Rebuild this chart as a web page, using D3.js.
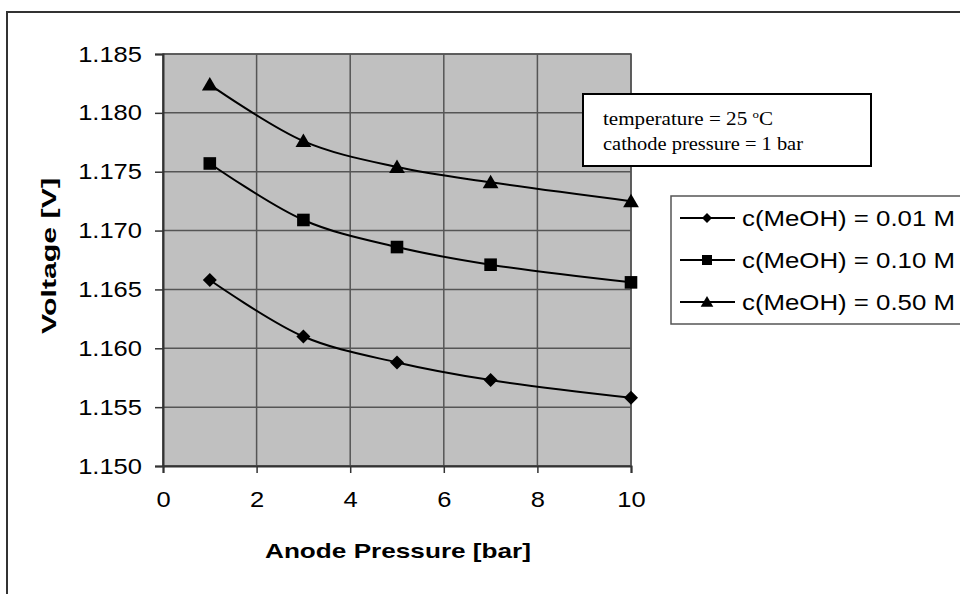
<!DOCTYPE html>
<html><head><meta charset="utf-8">
<script src="https://cdn.jsdelivr.net/npm/d3@7"></script>
<style>
body{margin:0;background:#fff;}
text{font-family:"Liberation Sans",Arial,sans-serif;}
</style></head>
<body><svg id="chart" width="960" height="594"></svg>
<script>
const pressures = [1, 3, 5, 7, 10];
const seriesNames = ["c(MeOH) = 0.01 M", "c(MeOH) = 0.10 M", "c(MeOH) = 0.50 M"];
const v001 = [1.1658, 1.1610, 1.1588, 1.1573, 1.1558];
const v010 = [1.1757, 1.1709, 1.1686, 1.1671, 1.1656];
const v050 = [1.1824, 1.1776, 1.1754, 1.1741, 1.1725];
const markerTypes = ["diamond", "square", "triangle"];
const xTicks = [0, 2, 4, 6, 8, 10];
const yTicks = [1.150, 1.155, 1.160, 1.165, 1.170, 1.175, 1.180, 1.185];
const xTitle = "Anode Pressure [bar]";
const yTitle = "Voltage [V]";
const noteLines = ["temperature = 25 ", "cathode pressure = 1 bar"];

const svg = d3.select("#chart");
const L = 163, R = 631, T = 54, B = 466;
const x = d3.scaleLinear().domain([0, 10]).range([L, R]);
const y = d3.scaleLinear().domain([1.150, 1.185]).range([B, T]);
const STRETCH = 1.16;

// outer frame
svg.append("rect").attr("x", 7).attr("y", 12).attr("width", 1000).attr("height", 700)
  .attr("fill", "#fff").attr("stroke", "#333").attr("stroke-width", 2);

// plot area
svg.append("rect").attr("x", L).attr("y", T).attr("width", R - L).attr("height", B - T)
  .attr("fill", "#c0c0c0").attr("stroke", "#555").attr("stroke-width", 1.5);

// gridlines
svg.append("g").selectAll("line").data(yTicks).join("line")
  .attr("x1", L).attr("x2", R).attr("y1", d => y(d)).attr("y2", d => y(d))
  .attr("stroke", "#555").attr("stroke-width", 1.5);
svg.append("g").selectAll("line").data(xTicks).join("line")
  .attr("y1", T).attr("y2", B).attr("x1", d => x(d)).attr("x2", d => x(d))
  .attr("stroke", "#555").attr("stroke-width", 1.5);

// axes
const yAxis = svg.append("g").attr("transform", `translate(${L},0)`)
  .call(d3.axisLeft(y).tickValues(yTicks).tickFormat(d3.format(".3f")).tickSize(8).tickPadding(13));
const xAxis = svg.append("g").attr("transform", `translate(0,${B})`)
  .call(d3.axisBottom(x).tickValues(xTicks).tickFormat(d3.format("d")).tickSize(7).tickPadding(18));
[yAxis, xAxis].forEach(a => {
  a.select(".domain").attr("stroke", "#333").attr("stroke-width", 2);
  a.selectAll(".tick line").attr("stroke", "#333").attr("stroke-width", 1.5);
  a.selectAll(".tick text").attr("font-size", 22).attr("fill", "#000")
    .attr("font-family", "'Liberation Sans', Arial, sans-serif")
    .each(function () { const w = this.getComputedTextLength(); d3.select(this).attr("textLength", w * STRETCH).attr("lengthAdjust", "spacingAndGlyphs"); });
});

// axis titles
svg.append("text").attr("x", 398).attr("y", 558).attr("text-anchor", "middle")
  .attr("font-size", 21).attr("font-weight", "bold").text(xTitle)
  .attr("textLength", 266).attr("lengthAdjust", "spacingAndGlyphs");
svg.append("text").attr("transform", "translate(56,256) rotate(-90)").attr("text-anchor", "middle")
  .attr("font-size", 21).attr("font-weight", "bold").text(yTitle)
  .attr("textLength", 156).attr("lengthAdjust", "spacingAndGlyphs");

// series
const allSeries = [v001, v010, v050].map((vals, i) => ({
  name: seriesNames[i], marker: markerTypes[i],
  pts: pressures.map((p, j) => ({ p, v: vals[j] }))
}));
const line = d3.line().x(d => x(d.p)).y(d => y(d.v)).curve(d3.curveCatmullRom.alpha(0.5));

function markerPath(type, s) {
  if (type === "diamond") return `M0,${-s}L${s},0L0,${s}L${-s},0Z`;
  if (type === "square") return `M${-s},${-s}H${s}V${s}H${-s}Z`;
  return `M0,${-s}L${s * 1.05},${s * 0.8}L${-s * 1.05},${s * 0.8}Z`;
}

const sg = svg.append("g").selectAll("g").data(allSeries).join("g");
sg.append("path").attr("d", d => line(d.pts)).attr("fill", "none").attr("stroke", "#000").attr("stroke-width", 2);
sg.each(function (d) {
  d3.select(this).selectAll("path.m").data(d.pts).join("path").attr("class", "m")
    .attr("transform", p => `translate(${x(p.p)},${y(p.v)})`)
    .attr("d", markerPath(d.marker, d.marker === "diamond" ? 7 : (d.marker === "square" ? 6.3 : 7.5)))
    .attr("fill", "#000");
});

// annotation box
svg.append("rect").attr("x", 583).attr("y", 94).attr("width", 288).attr("height", 72)
  .attr("fill", "#fff").attr("stroke", "#000").attr("stroke-width", 2);
const note = svg.append("g").attr("font-size", 18);
const t1 = note.append("text").attr("x", 603).attr("y", 125).style("font-family", "'Liberation Serif','Times New Roman',serif");
t1.append("tspan").text(noteLines[0]);
t1.append("tspan").attr("font-size", 11).attr("dy", -7).text("o");
t1.append("tspan").attr("dy", 7).text("C");
t1.attr("textLength", 170).attr("lengthAdjust", "spacingAndGlyphs");
note.append("text").attr("x", 603).attr("y", 150).style("font-family", "'Liberation Serif','Times New Roman',serif")
  .text(noteLines[1]).attr("textLength", 200).attr("lengthAdjust", "spacingAndGlyphs");

// legend
svg.append("rect").attr("x", 671).attr("y", 196).attr("width", 400).attr("height", 128)
  .attr("fill", "#fff").attr("stroke", "#555").attr("stroke-width", 1.5);
const lg = svg.append("g").selectAll("g").data(allSeries).join("g")
  .attr("transform", (d, i) => `translate(0,${218 + i * 42})`);
lg.append("line").attr("x1", 680).attr("x2", 735).attr("stroke", "#000").attr("stroke-width", 2);
lg.append("path").attr("transform", "translate(707,0)")
  .attr("d", d => markerPath(d.marker, d.marker === "diamond" ? 5 : (d.marker === "square" ? 5 : 6)))
  .attr("fill", "#000");
lg.append("text").attr("x", 742).attr("dy", "0.35em").attr("font-size", 22).text(d => d.name)
  .attr("textLength", 213).attr("lengthAdjust", "spacingAndGlyphs");
</script></body></html>
